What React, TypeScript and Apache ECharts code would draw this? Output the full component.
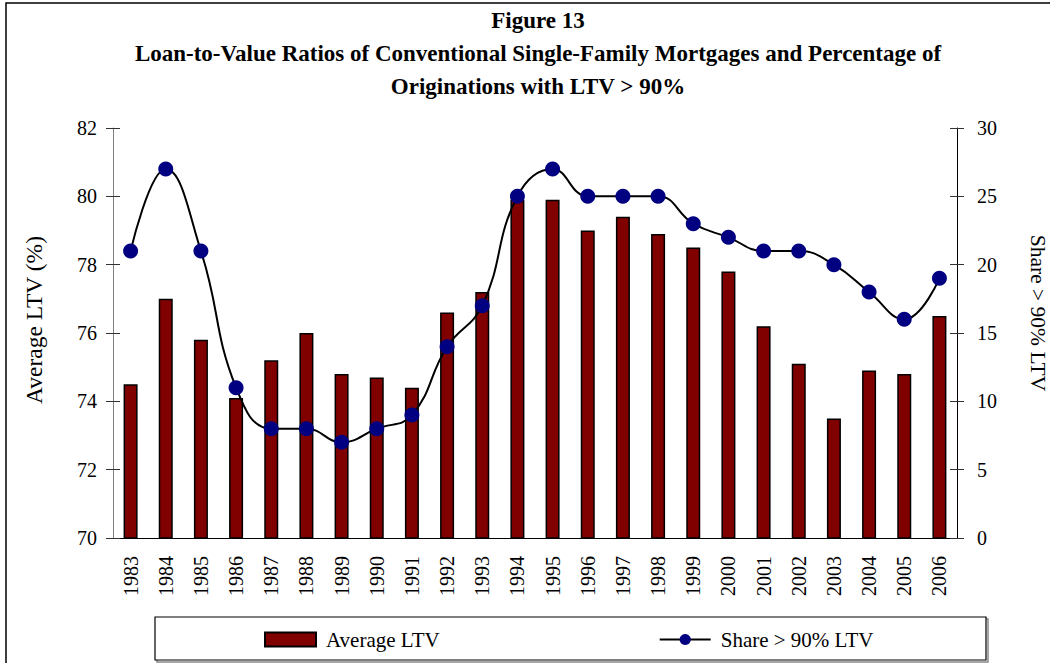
import React, { useEffect, useRef } from "react";
import * as echarts from "echarts";

const years = ["1983","1984","1985","1986","1987","1988","1989","1990","1991","1992","1993","1994","1995","1996","1997","1998","1999","2000","2001","2002","2003","2004","2005","2006"];
const avgLtv = [74.5, 77.0, 75.8, 74.1, 75.2, 76.0, 74.8, 74.7, 74.4, 76.6, 77.2, 79.9, 79.9, 79.0, 79.4, 78.9, 78.5, 77.8, 76.2, 75.1, 73.5, 74.9, 74.8, 76.5];
const share90 = [21, 27, 21, 11, 8, 8, 7, 8, 9, 14, 17, 25, 27, 25, 25, 25, 23, 22, 21, 21, 20, 18, 16, 19];
const leftAxis = { min: 70, max: 82, interval: 2 };
const rightAxis = { min: 0, max: 30, interval: 5 };
const titleLines = [
  "Figure 13",
  "Loan-to-Value Ratios of Conventional Single-Family Mortgages and Percentage of",
  "Originations with LTV > 90%",
];

const FONT = "'Liberation Serif', 'Times New Roman', serif";

export default function App() {
  const ref = useRef<HTMLDivElement>(null);
  useEffect(() => {
    if (!ref.current) return;
    const chart = echarts.init(ref.current, undefined, { renderer: "svg" });
    const baseText = { fontFamily: FONT, color: "#000" };
    chart.setOption({
      animation: false,
      backgroundColor: "#fff",
      title: {
        text: titleLines.join("\n"),
        left: 538,
        top: 4,
        padding: 0,
        textAlign: "center",
        textStyle: { ...baseText, fontWeight: "bold", fontSize: 23, lineHeight: 33 },
      },
      grid: {
        left: 113,
        right: 93,
        top: 128,
        bottom: 125,
        containLabel: false,
        outerBoundsMode: "none",
      },
      legend: {
        left: 264,
        top: 629,
        padding: 0,
        itemWidth: 51,
        itemHeight: 14,
        itemGap: 219,
        textStyle: { ...baseText, fontSize: 21, padding: [0, 0, 0, 5] },
        data: [
          { name: "Average LTV", icon: "rect" },
          { name: "Share > 90% LTV" },
        ],
      },
      xAxis: {
        type: "category",
        data: years,
        axisLine: { lineStyle: { color: "#000", width: 1 } },
        axisTick: { show: false },
        axisLabel: { ...baseText, fontSize: 20, rotate: 90, margin: 18, interval: 0 },
      },
      yAxis: [
        {
          type: "value",
          position: "left",
          min: leftAxis.min,
          max: leftAxis.max,
          interval: leftAxis.interval,
          name: "Average LTV (%)",
          nameLocation: "middle",
          nameGap: 67,
          nameTextStyle: { ...baseText, fontSize: 23.5, padding: [0, 0, 0, 26] },
          axisLine: { show: true, lineStyle: { color: "#808080", width: 1 } },
          axisTick: { show: true, length: 7, lineStyle: { color: "#333" } },
          axisLabel: { ...baseText, fontSize: 20, margin: 16 },
          splitLine: { show: false },
        },
        {
          type: "value",
          position: "right",
          min: rightAxis.min,
          max: rightAxis.max,
          interval: rightAxis.interval,
          name: "Share > 90% LTV",
          nameLocation: "middle",
          nameGap: 70,
          nameRotate: -90,
          nameTextStyle: { ...baseText, fontSize: 21.5, padding: [0, 40, 0, 0] },
          axisLine: { show: true, lineStyle: { color: "#000", width: 1 } },
          axisTick: { show: true, length: 7, lineStyle: { color: "#333" } },
          axisLabel: { ...baseText, fontSize: 20, margin: 20 },
          splitLine: { show: false },
        },
        {
          type: "value",
          position: "left",
          min: leftAxis.min,
          max: leftAxis.max,
          interval: leftAxis.interval,
          axisLine: { show: false },
          axisTick: { show: true, inside: true, length: 7, lineStyle: { color: "#333" } },
          axisLabel: { show: false },
          splitLine: { show: false },
        },
        {
          type: "value",
          position: "right",
          min: rightAxis.min,
          max: rightAxis.max,
          interval: rightAxis.interval,
          axisLine: { show: false },
          axisTick: { show: true, inside: true, length: 7, lineStyle: { color: "#333" } },
          axisLabel: { show: false },
          splitLine: { show: false },
        },
      ],
      series: [
        {
          name: "Average LTV",
          type: "bar",
          yAxisIndex: 0,
          data: avgLtv,
          barWidth: 14,
          itemStyle: { color: "#800000", borderColor: "#000", borderWidth: 1.5 },
          z: 2,
        },
        {
          name: "Share > 90% LTV",
          type: "line",
          yAxisIndex: 1,
          data: share90,
          smooth: 0.45,
          symbol: "circle",
          symbolSize: 15,
          itemStyle: { color: "#000080" },
          lineStyle: { color: "#000", width: 2 },
          z: 3,
        },
      ],
      graphic: [
        {
          type: "rect",
          shape: { x: 6, y: 3, width: 1100, height: 700 },
          style: { fill: "none", stroke: "#000", lineWidth: 1.5 },
          silent: true,
        },
        {
          type: "rect",
          shape: { x: 157, y: 619, width: 831, height: 43 },
          style: { fill: "none", stroke: "#888", lineWidth: 1.5 },
          silent: true,
          z: -1,
        },
        {
          type: "rect",
          shape: { x: 155, y: 617, width: 831, height: 43 },
          style: { fill: "#fff", stroke: "#000", lineWidth: 1.2 },
          silent: true,
          z: -1,
        },
      ],
    });
    return () => chart.dispose();
  }, []);
  return (
    <div
      ref={ref}
      style={{ position: "fixed", left: 0, top: 0, width: 1050, height: 663 }}
    />
  );
}
